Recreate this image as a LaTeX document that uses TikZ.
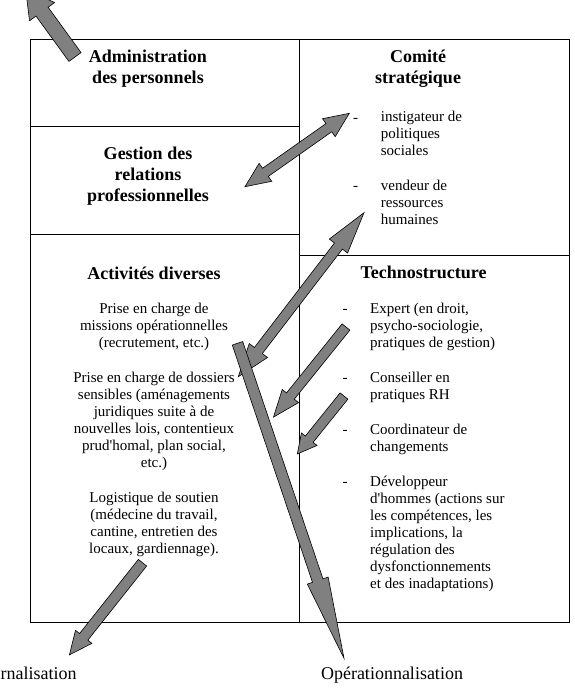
\documentclass[tikz,border=0pt]{standalone}
\usepackage{fontspec}
\setmainfont{Liberation Serif}
\usetikzlibrary{calc,positioning}

\tikzset{
  cadre/.style={draw, line width=0.8pt, inner sep=0pt, anchor=north west},
  titre/.style={font=\bfseries\fontsize{18}{21}\selectfont, align=center, inner sep=0pt, anchor=north},
  texte/.style={font=\fontsize{15}{17}\selectfont, align=center, inner sep=0pt, anchor=north},
  tiret/.style={font=\fontsize{15}{17}\selectfont, inner sep=0pt, anchor=base},
  liste/.style={font=\fontsize{15}{17}\selectfont, align=left, inner sep=0pt, anchor=north west},
  sortie/.style={font=\fontsize{18}{21}\selectfont, inner sep=0pt},
  fleche/.style={fill=gray, draw=black, line width=0.6pt}
}

\newcommand{\grossefleche}[5]{%
  \path let \p1=($(#2)-(#1)$) in
    \pgfextra{\pgfmathparse{atan2(\y1,\x1)}\xdef\fang{\pgfmathresult}%
              \pgfmathparse{veclen(\x1,\y1)}\xdef\flen{\pgfmathresult}};
  \begin{scope}[shift={(#1)},rotate=\fang]
    \filldraw[fleche] (0,-#3) -- (\flen-#5,-#3) -- (\flen-#5,-#4) -- (\flen,0)
      -- (\flen-#5,#4) -- (\flen-#5,#3) -- (0,#3) -- cycle;
  \end{scope}}

\newcommand{\doublefleche}[6]{%
  \path let \p1=($(#2)-(#1)$) in
    \pgfextra{\pgfmathparse{atan2(\y1,\x1)}\xdef\fang{\pgfmathresult}%
              \pgfmathparse{veclen(\x1,\y1)}\xdef\flen{\pgfmathresult}};
  \begin{scope}[shift={(#1)},rotate=\fang]
    \filldraw[fleche] (#5,-#3) -- (\flen-#6,-#3) -- (\flen-#6,-#4) -- (\flen,0)
      -- (\flen-#6,#4) -- (\flen-#6,#3) -- (#5,#3) -- (#5,#4) -- (0,0)
      -- (#5,-#4) -- cycle;
  \end{scope}}

\begin{document}
\begin{tikzpicture}[x=1pt, y=-1pt]
	\useasboundingbox (0,0) rectangle (574,699);

	\node[cadre, minimum width=269pt, minimum height=87pt] (admin) at (30,39) {};
	\node[cadre, minimum width=269pt, minimum height=108pt] (gestion) at (30,126) {};
	\node[cadre, minimum width=269pt, minimum height=388pt] (activ) at (30,234) {};
	\node[cadre, minimum width=270pt, minimum height=216pt] (comite) at (299,39) {};
	\node[cadre, minimum width=270pt, minimum height=367pt] (techno) at (299,255) {};

	\node[titre] (tadmin) at (148,50) {Administration\\des personnels};
	\node[titre] (tgestion) at (148,147) {Gestion des\\relations\\professionnelles};
	\node[titre] (tcomite) at (418,50) {Comité\\stratégique};
	\node[titre] (tactiv) at (154,266.5) {Activités diverses};
	\node[titre] (ttechno) at (423.5,266) {Technostructure};

	\node[texte] (prise1) at (154,303) {Prise en charge de\\missions opérationnelles\\(recrutement, etc.)};
	\node[texte] (prise2) at (154,372) {Prise en charge de dossiers\\sensibles (aménagements\\juridiques suite à de\\nouvelles lois, contentieux\\prud\textquotesingle homal, plan social,\\etc.)};
	\node[texte] (logist) at (154,492.3) {Logistique de soutien\\(médecine du travail,\\cantine, entretien des\\locaux, gardiennage).};

	\node[tiret] (d1) at (355.7,122) {-};
	\node[liste] (c1) at (380.7,111.3) {instigateur de\\politiques\\sociales};
	\node[tiret] (d2) at (355.7,190.3) {-};
	\node[liste] (c2) at (380.7,179.6) {vendeur de\\ressources\\humaines};

	\node[tiret] (d3) at (345,313.6) {-};
	\node[liste] (t1) at (370,303) {Expert (en droit,\\psycho-sociologie,\\pratiques de gestion)};
	\node[tiret] (d4) at (345,382.3) {-};
	\node[liste] (t2) at (370,371.6) {Conseiller en\\pratiques RH};
	\node[tiret] (d5) at (345,434.3) {-};
	\node[liste] (t3) at (370,423.6) {Coordinateur de\\changements};
	\node[tiret] (d6) at (345,486.3) {-};
	\node[liste] (t4) at (370,475.6) {Développeur\\d\textquotesingle hommes (actions sur\\les compétences, les\\implications, la\\régulation des\\dysfonctionnements\\et des inadaptations)};

	\node[sortie, anchor=base west] (extern) at (0.5,679) {rnalisation};
	\node[sortie, anchor=base] (operat) at (392,679) {Opérationnalisation};

	\coordinate (a1q) at (75,57);
	\coordinate (a1t) at (25.6,-11);
	\coordinate (a2b) at (245,186.7);
	\coordinate (a2h) at (349.3,113.3);
	\coordinate (a3b) at (238.3,376.7);
	\coordinate (a3h) at (364,212.7);
	\coordinate (a4q) at (346,327);
	\coordinate (a4t) at (273.3,417.3);
	\coordinate (a5q) at (344,396);
	\coordinate (a5t) at (297.3,454);
	\coordinate (a6q) at (237.5,343.3);
	\coordinate (a6t) at (344,658.3);
	\coordinate (a7q) at (142.5,562.7);
	\coordinate (a7t) at (69.3,655);

	\grossefleche{a1q}{a1t}{7.5}{15.5}{28}
	\doublefleche{a2b}{a2h}{5}{11}{25}{25}
	\doublefleche{a3b}{a3h}{5}{11.5}{33}{42}
	\grossefleche{a4q}{a4t}{5}{10.5}{27}
	\grossefleche{a5q}{a5t}{5}{10}{19}
	\grossefleche{a6q}{a6t}{5.5}{11}{82}
	\grossefleche{a7q}{a7t}{5.3}{10.5}{23}
\end{tikzpicture}
\end{document}
